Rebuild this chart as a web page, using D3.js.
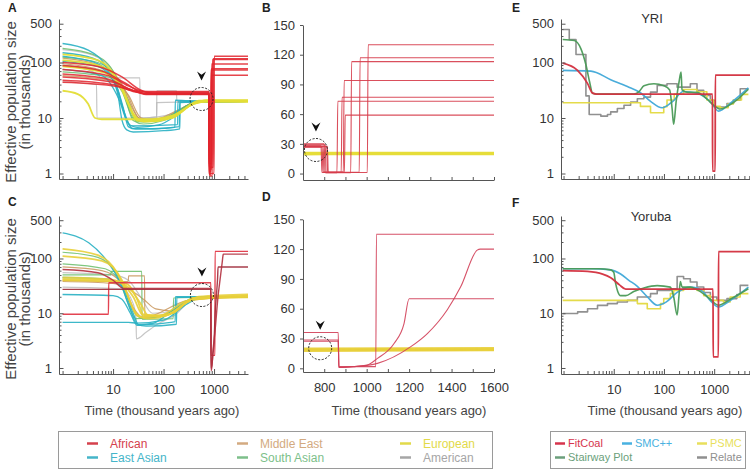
<!DOCTYPE html>
<html><head><meta charset="utf-8">
<script src="https://cdn.jsdelivr.net/npm/d3@7/dist/d3.min.js"></script>
<style>
html,body{margin:0;padding:0;background:#fff;}
svg{display:block;font-family:"Liberation Sans",Arial,Helvetica,sans-serif;}
</style></head>
<body>
<svg id="chart" width="750" height="469"></svg>
<script>
// ================= DATA (time in thousand years ago, Ne in thousands) =================
const popNames = ["African", "East Asian", "Middle East", "South Asian", "European", "American"];
const methodNames = ["FitCoal", "SMC++", "PSMC", "Stairway Plot", "Relate"];
const logXMajor = [10, 100, 1000];
const logYLabels = [1, 10, 100, 500];
const linYTicks = [0, 30, 60, 90, 120, 150];
const linXTicks = [800, 900, 1000, 1100, 1200, 1300, 1400, 1500, 1600];
const linXLabels = [800, 1000, 1200, 1400, 1600];
const panelTitlesEF = ["YRI", "Yoruba"];

// ---- Panel A / B : FitCoal, 1000 Genomes populations ----
const africanA = [
  [[1,100],[5,85],[15,55],[35,32],[60,28],[785,28],[789,1.0],[1003,1.0],[1007,130],[4700,130]],
  [[1,88],[6,70],[18,42],[45,27],[795,27],[799,1.3],[965,1.3],[969,117],[4700,117]],
  [[1,75],[8,58],[20,38],[50,29],[805,29],[809,0.9],[925,0.9],[929,113],[4700,113]],
  [[1,62],[8,50],[22,33],[45,26.5],[790,26.5],[794,1.5],[890,1.5],[894,94],[4700,94]],
  [[1,55],[10,44],[25,31],[55,27],[812,27],[816,1.1],[880,1.1],[884,77],[4700,77]],
  [[1,48],[10,40],[25,31],[50,30],[800,30],[804,0.95],[860,0.95],[864,73],[4700,73]],
  [[1,44],[12,37],[30,29],[60,27.5],[815,27.5],[819,1.2],[895,1.2],[899,59],[4700,59]]
];
const eastAsianA = [
  [[1,220],[3.3,165],[8,72],[12.7,24],[15,9.2],[18.7,6.1],[25,5.6],[100,5.9],[210,6.4],[213,20.5],[330,20],[4700,20]],
  [[1,150],[4,120],[10,55],[16,15],[20,7],[28,6.3],[168,6.8],[171,21],[300,20.5],[4700,20]],
  [[1,105],[5,85],[11,40],[17,12],[24,6.5],[60,6.4],[205,7],[208,19],[4700,20]],
  [[1,75],[6,58],[13,22],[20,8],[30,6.8],[80,7.5],[200,12],[400,19],[4700,20]],
  [[1,130],[5,95],[12,35],[18,10],[22,7.2],[190,7.6],[192,19.5],[4700,20]]
];
const middleEastA = [
  [[1,120],[5,92],[14,45],[24,15],[35,9.3],[100,10],[300,17],[600,20],[4700,20]],
  [[1,95],[6,72],[18,30],[32,10],[45,8.8],[150,11],[400,19],[4700,20]],
  [[1,58],[8,48],[20,26],[36,10],[60,9.2],[200,14],[500,20],[4700,20]]
];
const southAsianA = [
  [[1,180],[4,140],[10,70],[17,25],[25,9],[40,7.8],[100,9],[250,15],[500,20],[4700,20]],
  [[1,125],[5,100],[13,45],[22,14],[30,8.5],[100,9.5],[300,17],[600,20],[4700,20]],
  [[1,88],[6,70],[15,30],[26,9.5],[40,8.5],[150,11],[400,19],[4700,20]],
  [[1,68],[8,55],[18,25],[30,9.2],[50,8.8],[200,13],[450,19.5],[4700,20]]
];
const europeanA = [
  [[1,31],[2,27],[3.2,18],[4.4,10],[6,9.5],[60,9.5],[150,11],[400,18],[700,20],[4700,20]],
  [[1,140],[5,110],[12,50],[20,18],[30,9],[50,8.6],[150,10],[400,18.5],[800,19.5],[4700,19.5]],
  [[1,110],[6,85],[15,35],[25,12],[35,9.2],[120,9.8],[350,17],[700,21],[4700,21]],
  [[1,85],[7,65],[16,30],[28,10],[40,8.7],[200,12],[500,20.5],[4700,20.5]]
];
const americanA = [
  [[1,90],[3,75],[5.4,56],[5.5,53],[34,53],[34.3,9.8],[73,9.8],[73.4,19],[300,19.5],[4700,20]],
  [[1,45],[4.7,40],[4.8,10],[30,10],[73,10.5],[73.5,31],[180,31],[183,20],[4700,20]],
  [[1,170],[4,135],[10,70],[18,25],[26,11],[40,10],[150,12],[400,19],[4700,20]]
];

// ---- Panel C / D : FitCoal, HGDP populations ----
const africanC = [
  [[1,9.6],[8.1,9.6],[8.2,36],[866,36],[869,1.7],[1043,1.7],[1046,135],[4700,135]],
  [[1,27.3],[866,27.3],[869,1.0],[885,1.0],[950,1.8],[1000,3],[1051,10],[1129,25],[1176,45],[1200,70],[4700,70]],
  [[1,63],[5,55],[10,40],[16,28.5],[866,28.5],[869,0.9],[890,0.9],[950,2],[1051,5],[1208,21.8],[1286,35],[1380,59],[1443,82],[1521,119],[1535,120],[4700,120]]
];
const eastAsianC = [
  [[1,293],[3.3,193],[8.1,83],[14.9,31],[23,10.3],[30,6.3],[45,5.8],[180,6.3],[183,19.5],[4700,20]],
  [[1,22],[10,21],[15,18],[22,10],[30,6],[50,6.2],[170,7],[172,20],[4700,20]],
  [[1,6.8],[20,6.8],[30,6.6],[100,7.5],[300,15],[600,20],[4700,20]],
  [[1,45],[8,42],[15,30],[25,10],[32,6.2],[60,6.5],[200,14],[500,20],[4700,20]]
];
const middleEastC = [
  [[1,40],[20,38],[20.3,48],[42,48],[42.5,8.5],[300,17],[4700,20]],
  [[1,70],[6,60],[15,35],[26,12],[38,8.5],[150,10],[400,19],[4700,20]],
  [[1,38],[10,35],[20,28],[40,18],[70,12],[150,11],[400,19],[4700,20]]
];
const southAsianC = [
  [[1,50],[9,50],[9.2,58],[37,58],[37.5,7.8],[155,8],[158,19],[4700,20]],
  [[1,130],[5,105],[12,50],[20,15],[28,8],[80,8.5],[250,15],[500,20],[4700,20]],
  [[1,80],[7,65],[16,30],[27,10],[40,8],[150,11],[400,19],[4700,20]]
];
const europeanC = [
  [[1,150],[5,115],[12,55],[20,20],[30,9],[50,8],[150,10],[400,19],[4700,19.5]],
  [[1,110],[6,90],[15,40],[25,12],[38,8.5],[150,10],[400,19],[4700,20.5]],
  [[1,45],[8,42],[15,35],[25,20],[40,9],[80,9],[300,17],[4700,21]],
  [[1,40],[10,38],[20,30],[35,15],[50,9],[100,9],[400,18],[4700,20]],
  [[1,42],[10,40],[20,33],[30,18],[40,9.5],[100,9],[300,16],[500,20],[4700,22]]
];
const americanC = [
  [[1,30],[15,28],[25,15],[28.5,8],[29,3.4],[45,4.5],[80,6.5],[160,9],[400,18],[4700,20]],
  [[1,55],[10,50],[20,40],[35,20],[60,10],[150,11],[400,19],[4700,20]]
];

// ---- Panel E : YRI, five methods ----
const fitcoalE = [[0.96,97],[1.9,72],[3,42],[3.8,28],[4.5,27],[925,27],[930,1.1],[1048,1.1],[1053,59],[5200,59]];
const smcE = [[0.96,72],[3.5,70],[8.7,49],[18.7,37],[34,28.5],[54,20],[92,15.3],[150,20],[244,30],[455,28],[870,19],[1220,13.3],[2170,19],[4800,35]];
const psmcE = [[0.96,18.8],[34,16.2],[54,12.4],[99,16],[115,21.1],[160,27],[246,32.7],[455,29.8],[715,21.1],[970,16.2],[1320,15.3],[1900,18],[2420,21.1],[3500,26.6],[4800,26.6]];
const stairwayE = [[0.96,260],[1.64,250],[2.2,180],[2.8,90],[3.3,45],[3.78,28],[5,27],[25,27],[32,30],[40,38],[63,41.5],[100,38],[130,32],[145,15],[156,7.7],[175,20],[200,45],[219,67],[229,32],[300,29],[455,29],[715,22],[970,17],[1320,14.5],[2420,19],[4800,33]];
const relateE = [[0.96,393],[1.30,260],[1.77,139],[2.79,25],[3.24,11.6],[5.53,10.8],[7.5,11.6],[8.7,12.9],[11.8,14.8],[16,17],[21.7,19.4],[29.5,22.2],[39.8,23.8],[54,29.3],[73.4,38.7],[115,41.5],[183,36],[335,41.5],[455,31.5],[618,25.4],[840,20.8],[1050,15.8],[1800,18.2],[2420,21],[3300,33.7],[4800,33.7]];

// ---- Panel F : Yoruba, five methods ----
const fitcoalF = [[0.96,60],[3,58],[6,52],[8.72,44.6],[13,33],[17.3,27.5],[25,27.5],[950,27.5],[955,1.6],[1215,1.6],[1220,134],[5200,134]];
const smcF = [[0.96,65],[3.5,65],[8.72,62],[13.7,52],[20,40],[29.5,31],[46.5,20],[73.4,14],[110,16],[183,24],[335,30],[455,29],[618,24],[840,17],[1220,13],[2080,17],[4800,30]];
const psmcF = [[0.96,17.2],[29.5,15],[46.5,12.1],[85.3,15],[99,18.5],[134,22.8],[156,26],[246,28.1],[455,26.2],[618,21],[840,17.2],[1530,16],[2080,19.8],[3300,22.8],[4800,22.8]];
const stairwayF = [[0.96,65],[5,65],[8.72,62],[10,56],[10.9,35],[12,25],[13.7,21],[17.3,21],[25,25],[39.8,29],[73.4,32],[134,30],[156,20],[183,9.3],[200,22],[212,38],[230,30],[335,30],[455,27],[840,18],[1220,14],[2080,18],[4800,28]];
const relateF = [[0.96,9.9],[1.91,10.6],[3.01,12.1],[4.75,13.9],[7.5,15],[11.8,16],[18.7,17.2],[29.5,19.8],[54,22.8],[73.4,26.2],[134,28.1],[183,47],[246,42.7],[335,37.1],[455,30.1],[620,24],[840,19.8],[1130,17.2],[1800,18.5],[2830,22],[3300,32.3],[4800,32.3]];

// bottleneck annotation (data coordinates)
const markA = [565, 22], markB = [761, 23.8], markC = [575, 21.5], markD = [781, 20.2];

// ================= STYLE / LAYOUT =================
const popColor = {"African":"#e2242d","East Asian":"#28b0c3","Middle East":"#c8955a","South Asian":"#68bd68","European":"#e3dd36","American":"#b8b8b8"};
const popText  = {"African":"#d5414c","East Asian":"#45b5c9","Middle East":"#d3aa80","South Asian":"#7dbf8a","European":"#e2da4a","American":"#a6a6a6"};
const methColor = {"FitCoal":"#d32f3e","SMC++":"#3fa8d8","PSMC":"#e3d940","Stairway Plot":"#4a9a57","Relate":"#8a8a8a"};
const methText  = {"FitCoal":"#d6344c","SMC++":"#49b1e0","PSMC":"#e8df5c","Stairway Plot":"#6b9f7b","Relate":"#8f8f8f"};
const FONT = '"Liberation Sans",Arial,Helvetica,sans-serif';

const svg = d3.select("#chart");
const defs = svg.append("defs");

const xAC = d3.scaleLog().domain([0.85, 4700]).range([59, 248]);
const yTopLog = d3.scaleLog().domain([0.796, 608]).range([179, 19]);
const yBotLog = d3.scaleLog().domain([0.777, 597]).range([374, 216]);
const xEF = d3.scaleLog().domain([0.89, 5170]).range([561, 750]);
const xLin = d3.scaleLinear().domain([700, 1600]).range([303, 494]);
const yTopLin = d3.scaleLinear().domain([-6.5, 150]).range([180, 25]);
const yBotLin = d3.scaleLinear().domain([-3.7, 150]).range([372, 219.3]);

function clip(id, x, y) {
  const [x0, x1] = x.range(), [yb, yt] = y.range();
  defs.append("clipPath").attr("id", id).append("rect")
    .attr("x", x0).attr("y", yt).attr("width", x1 - x0).attr("height", yb - yt);
  return svg.append("g").attr("clip-path", `url(#${id})`);
}
function lines(g, data, x, y, color, width, opacity, curve) {
  const gen = d3.line().x(d => x(d[0])).y(d => y(d[1])).curve(curve || d3.curveMonotoneX);
  g.selectAll(null).data(data).enter().append("path")
    .attr("d", gen).attr("fill", "none")
    .attr("stroke", (d, i) => typeof color === "function" ? color(i) : color)
    .attr("stroke-width", width).attr("stroke-opacity", opacity)
    .attr("stroke-linejoin", "round").attr("stroke-linecap", "butt");
}
function styleAxis(g) {
  g.attr("font-size", 13).attr("font-family", FONT);
  g.select(".domain").attr("stroke", "#555").attr("stroke-width", 1);
  g.selectAll(".tick line").attr("stroke", "#555");
  g.selectAll(".tick text").attr("fill", "#333");
}
function logAxes(x, y, showX) {
  const gx = svg.append("g").attr("transform", `translate(0,${y.range()[0]})`)
    .call(d3.axisBottom(x).tickValues(x.ticks().filter(d => d >= 1)).tickSizeInner(-3).tickSizeOuter(0).tickPadding(11)
      .tickFormat(d => showX && logXMajor.includes(d) ? d : ""));
  gx.selectAll(".tick").filter(d => logXMajor.includes(d)).select("line").attr("y2", -5);
  styleAxis(gx);
  const gy = svg.append("g").attr("transform", `translate(${x.range()[0]},0)`)
    .call(d3.axisLeft(y).tickValues(y.ticks().filter(d => d >= 1 && d <= 500)).tickSizeInner(-2.5).tickSizeOuter(0).tickPadding(7)
      .tickFormat(d => logYLabels.includes(d) ? d : ""));
  gy.selectAll(".tick").filter(d => logYLabels.includes(d)).select("line").attr("x2", 4.5);
  styleAxis(gy);
}
function linAxes(x, y, showX) {
  const gx = svg.append("g").attr("transform", `translate(0,${y.range()[0]})`)
    .call(d3.axisBottom(x).tickValues(linXTicks).tickSizeInner(-3).tickSizeOuter(0).tickPadding(11)
      .tickFormat(d => showX && linXLabels.includes(d) ? d : ""));
  styleAxis(gx);
  const gy = svg.append("g").attr("transform", `translate(${x.range()[0]},0)`)
    .call(d3.axisLeft(y).tickValues(linYTicks).tickSizeInner(3).tickSizeOuter(0).tickPadding(5));
  styleAxis(gy);
}
function mark(x, y, pt) {
  const cx = x(pt[0]), cy = y(pt[1]);
  svg.append("circle").attr("cx", cx).attr("cy", cy).attr("r", 11.5)
    .attr("fill", "none").attr("stroke", "#222").attr("stroke-width", 1).attr("stroke-dasharray", "2,1.6");
  svg.append("path").attr("transform", `translate(${cx},${cy - 23})`)
    .attr("d", "M-4.5,-4.5 L0,-1.2 L4.5,-4.5 L0,4.5 Z").attr("fill", "#111");
}
function letter(t, x, y) {
  svg.append("text").attr("x", x).attr("y", y).text(t)
    .attr("font-size", 12).attr("font-weight", "bold").attr("fill", "#222").attr("font-family", FONT);
}
function yTitle(cy) {
  svg.append("text").attr("transform", `translate(11,${cy}) rotate(-90)`).attr("text-anchor", "middle")
    .attr("dy", "0.35em").attr("font-size", 15).attr("fill", "#444").attr("font-family", FONT)
    .text("Effective population size");
  svg.append("text").attr("transform", `translate(25,${cy}) rotate(-90)`).attr("text-anchor", "middle")
    .attr("dy", "0.35em").attr("font-size", 15).attr("fill", "#444").attr("font-family", FONT)
    .text("(in thousands)");
}
function xTitle(cx) {
  svg.append("text").attr("x", cx).attr("y", 415).attr("text-anchor", "middle")
    .attr("font-size", 13).attr("fill", "#444").attr("font-family", FONT)
    .text("Time (thousand years ago)");
}

// ================= PANEL A =================
{
  const g = clip("clipA", xAC, yTopLog);
  lines(g, americanA, xAC, yTopLog, popColor["American"], 1.2, 0.8);
  lines(g, middleEastA, xAC, yTopLog, popColor["Middle East"], 1.2, 0.85);
  lines(g, southAsianA, xAC, yTopLog, popColor["South Asian"], 1.2, 0.85);
  lines(g, eastAsianA, xAC, yTopLog, popColor["East Asian"], 1.3, 0.9);
  lines(g, europeanA, xAC, yTopLog, popColor["European"], 1.8, 0.95);
  lines(g, africanA, xAC, yTopLog, popColor["African"], 1.5, 0.85);
  logAxes(xAC, yTopLog, false);
  mark(xAC, yTopLog, markA);
}
// ================= PANEL B =================
{
  const g = clip("clipB", xLin, yTopLin);
  lines(g, europeanA, xLin, yTopLin, "#e6dc38", 2.2, 0.95);
  lines(g, africanA, xLin, yTopLin, "#d63c4a", 1.1, 0.9);
  linAxes(xLin, yTopLin, false);
  mark(xLin, yTopLin, markB);
}
// ================= PANEL C =================
{
  const g = clip("clipC", xAC, yBotLog);
  const afrC = ["#e0303f", "#9e2a38", "#b3303f"];
  lines(g, americanC, xAC, yBotLog, popColor["American"], 1.2, 0.8);
  lines(g, middleEastC, xAC, yBotLog, popColor["Middle East"], 1.2, 0.85);
  lines(g, southAsianC, xAC, yBotLog, popColor["South Asian"], 1.2, 0.85);
  lines(g, eastAsianC, xAC, yBotLog, popColor["East Asian"], 1.3, 0.9);
  lines(g, europeanC, xAC, yBotLog, "#e8cf3a", 1.8, 0.9);
  lines(g, africanC, xAC, yBotLog, i => afrC[i], 1.4, 0.9);
  logAxes(xAC, yBotLog, true);
  mark(xAC, yBotLog, markC);
}
// ================= PANEL D =================
{
  const g = clip("clipD", xLin, yBotLin);
  lines(g, europeanC, xLin, yBotLin, "#e8cf3a", 1.8, 0.9);
  lines(g, africanC, xLin, yBotLin, "#d23f58", 1.1, 0.9);
  linAxes(xLin, yBotLin, true);
  mark(xLin, yBotLin, markD);
}
// ================= PANEL E =================
{
  const g = clip("clipE", xEF, yTopLog);
  lines(g, [relateE], xEF, yTopLog, methColor["Relate"], 1.6, 0.95, d3.curveStepAfter);
  lines(g, [psmcE], xEF, yTopLog, methColor["PSMC"], 1.6, 0.95, d3.curveStepAfter);
  lines(g, [smcE], xEF, yTopLog, methColor["SMC++"], 1.6, 0.95);
  lines(g, [stairwayE], xEF, yTopLog, methColor["Stairway Plot"], 1.6, 0.95);
  lines(g, [fitcoalE], xEF, yTopLog, methColor["FitCoal"], 1.8, 0.95);
  logAxes(xEF, yTopLog, false);
  svg.append("text").attr("x", 652).attr("y", 23).attr("text-anchor", "middle")
    .attr("font-size", 13).attr("fill", "#333").attr("font-family", FONT).text(panelTitlesEF[0]);
}
// ================= PANEL F =================
{
  const g = clip("clipF", xEF, yBotLog);
  lines(g, [relateF], xEF, yBotLog, methColor["Relate"], 1.6, 0.95, d3.curveStepAfter);
  lines(g, [psmcF], xEF, yBotLog, methColor["PSMC"], 1.6, 0.95, d3.curveStepAfter);
  lines(g, [smcF], xEF, yBotLog, methColor["SMC++"], 1.6, 0.95);
  lines(g, [stairwayF], xEF, yBotLog, methColor["Stairway Plot"], 1.6, 0.95);
  lines(g, [fitcoalF], xEF, yBotLog, methColor["FitCoal"], 1.8, 0.95);
  logAxes(xEF, yBotLog, true);
  svg.append("text").attr("x", 651).attr("y", 221).attr("text-anchor", "middle")
    .attr("font-size", 13).attr("fill", "#333").attr("font-family", FONT).text(panelTitlesEF[1]);
}

// ================= LABELS =================
letter("A", 8, 12); letter("B", 262, 12); letter("C", 8, 206);
letter("D", 262, 201); letter("E", 512, 12); letter("F", 512, 207);
yTitle(102); yTitle(299);
xTitle(162); xTitle(409); xTitle(665);

// ================= LEGENDS =================
{
  svg.append("rect").attr("x", 58.5).attr("y", 431.5).attr("width", 434).attr("height", 37)
    .attr("fill", "#fff").attr("stroke", "#9a9a9a").attr("stroke-width", 1);
  const colX = [87, 237, 400], rowY = [443.5, 457.5];
  const lg = svg.append("g").selectAll(null).data(popNames).enter().append("g")
    .attr("transform", (d, i) => `translate(${colX[Math.floor(i / 2)]},${rowY[i % 2]})`);
  lg.append("line").attr("x1", 0).attr("x2", 11).attr("y1", 0).attr("y2", 0)
    .attr("stroke", d => popText[d]).attr("stroke-width", 2.5);
  lg.append("text").attr("x", 23).attr("dy", "0.35em").attr("font-size", 12)
    .attr("font-family", FONT).attr("fill", d => popText[d]).text(d => d);
}
{
  svg.append("rect").attr("x", 550.5).attr("y", 431.5).attr("width", 195).attr("height", 37)
    .attr("fill", "#fff").attr("stroke", "#9a9a9a").attr("stroke-width", 1);
  const pos = [[555, 443.5], [622, 443.5], [697, 443.5], [555, 457.5], [697, 457.5]];
  const lg = svg.append("g").selectAll(null).data(methodNames).enter().append("g")
    .attr("transform", (d, i) => `translate(${pos[i][0]},${pos[i][1]})`);
  lg.append("line").attr("x1", 0).attr("x2", 10).attr("y1", 0).attr("y2", 0)
    .attr("stroke", d => methText[d]).attr("stroke-width", 2.5);
  lg.append("text").attr("x", 13).attr("dy", "0.35em").attr("font-size", 11)
    .attr("font-family", FONT).attr("fill", d => methText[d]).text(d => d);
}
</script>
</body></html>
